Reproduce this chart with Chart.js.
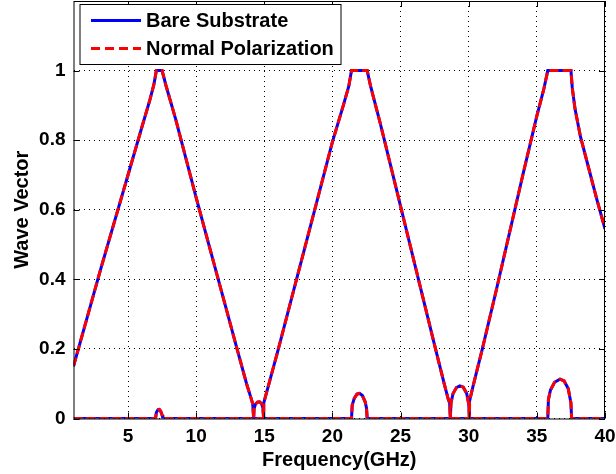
<!DOCTYPE html>
<html>
<head>
<meta charset="utf-8">
<script src="https://cdn.jsdelivr.net/npm/chart.js@4"></script>
<style>
html,body{margin:0;padding:0;background:#fff;}
#wrap{width:616px;height:474px;}
</style>
</head>
<body>
<div id="wrap"><canvas id="c" width="616" height="474"></canvas></div>
<script>
// ---- data ----
const seriesNames = ["Bare Substrate", "Normal Polarization"];
const xTicks = [5, 10, 15, 20, 25, 30, 35, 40];
const yTicks = [0, 0.2, 0.4, 0.6, 0.8, 1];

// propagating branch (real part)
const freqReal = [1, 2, 3, 4, 5, 6, 6.6, 6.9, 7.08, 7.5, 7.8, 8.5, 10, 11, 12, 13, 13.7, 14.0, 14.15, 14.22,
  14.95, 14.96, 15.1, 16, 17, 18, 19, 20, 20.8, 21.2, 21.4, 22.55, 22.8, 23.5, 24.5, 25.5, 26.5, 27.5, 28.2, 28.5, 28.6, 28.65,
  30.05, 30.06, 30.3, 31, 32, 33, 34, 35, 35.5, 35.8, 37.5, 37.6, 37.8, 38.2, 38.8, 39.4, 40];
const bareReal = [0.15, 0.29, 0.43, 0.565, 0.70, 0.835, 0.915, 0.96, 1.0, 1.0, 0.955, 0.86, 0.635, 0.49, 0.345, 0.2, 0.1, 0.062, 0.042, 0,
  0, 0.045, 0.065, 0.195, 0.345, 0.495, 0.645, 0.795, 0.9, 0.955, 1.0, 1.0, 0.955, 0.85, 0.69, 0.53, 0.37, 0.21, 0.1, 0.055, 0.045, 0,
  0, 0.05, 0.09, 0.2, 0.365, 0.535, 0.705, 0.87, 0.945, 1.0, 1.0, 0.95, 0.89, 0.81, 0.72, 0.63, 0.545];

// evanescent branch (imaginary part)
const freqImag = [1, 7.02, 7.08, 7.2, 7.3, 7.4, 7.5, 7.56,
  14.22, 14.25, 14.35, 14.5, 14.65, 14.8, 14.9, 14.95,
  21.4, 21.45, 21.6, 21.8, 22.0, 22.2, 22.4, 22.5, 22.55,
  28.65, 28.7, 28.85, 29.1, 29.35, 29.6, 29.85, 30.0, 30.05,
  35.8, 35.85, 36.0, 36.3, 36.7, 37.0, 37.3, 37.5, 37.55, 40];
const bareImag = [0, 0, 0.017, 0.025, 0.026, 0.021, 0.01, 0,
  0, 0.028, 0.041, 0.047, 0.048, 0.043, 0.03, 0,
  0, 0.038, 0.058, 0.07, 0.072, 0.066, 0.048, 0.03, 0,
  0, 0.045, 0.072, 0.089, 0.094, 0.09, 0.072, 0.042, 0,
  0, 0.055, 0.082, 0.104, 0.113, 0.108, 0.086, 0.045, 0, 0];

// normal polarization coincides with the bare substrate curve
const normalReal = bareReal.slice();
const normalImag = bareImag.slice();

const pts = (xs, ys) => xs.map((x, i) => ({x: x, y: ys[i]}));

const FONT = "'Liberation Sans', Arial, sans-serif";
const BLUE = '#0000ff', RED = '#ff0000';

const frameAndLegend = {
  id: 'frameAndLegend',
  afterDatasetsDraw(chart) {
    const {ctx, chartArea: a, scales} = chart;
    ctx.save();
    ctx.strokeStyle = '#000';
    ctx.lineWidth = 1;
    ctx.setLineDash([]);
    ctx.strokeRect(a.left + 0.5, a.top + 0.5, a.right - a.left - 1, a.bottom - a.top);
    const tl = 6;
    ctx.beginPath();
    scales.x.ticks.forEach(t => {
      const px = Math.round(scales.x.getPixelForValue(t.value)) + 0.5;
      ctx.moveTo(px, a.bottom); ctx.lineTo(px, a.bottom - tl);
      ctx.moveTo(px, a.top); ctx.lineTo(px, a.top + tl);
    });
    scales.y.ticks.forEach(t => {
      const py = Math.round(scales.y.getPixelForValue(t.value)) + 0.5;
      ctx.moveTo(a.left, py); ctx.lineTo(a.left + tl, py);
      ctx.moveTo(a.right, py); ctx.lineTo(a.right - tl, py);
    });
    ctx.stroke();
    // legend
    const bx = a.left + 6.5, by = a.top + 3.5, bw = 261, bh = 60;
    ctx.fillStyle = '#fff';
    ctx.fillRect(bx, by, bw, bh);
    ctx.strokeStyle = '#000';
    ctx.lineWidth = 1;
    ctx.strokeRect(bx, by, bw, bh);
    const rows = [
      {label: seriesNames[0], color: BLUE, dash: []},
      {label: seriesNames[1], color: RED, dash: [9, 5]}
    ];
    ctx.font = 'bold 20px ' + FONT;
    ctx.textBaseline = 'middle';
    rows.forEach((r, i) => {
      const cy = by + 16 + i * 28;
      ctx.beginPath();
      ctx.setLineDash(r.dash);
      ctx.strokeStyle = r.color;
      ctx.lineWidth = 3;
      ctx.moveTo(bx + 11, cy); ctx.lineTo(bx + 61, cy);
      ctx.stroke();
      ctx.setLineDash([]);
      ctx.fillStyle = '#000';
      ctx.fillText(r.label, bx + 66, cy + 1);
    });
    ctx.restore();
  }
};

const common = {showLine: true, pointRadius: 0, borderWidth: 3, tension: 0, fill: false, spanGaps: true};

new Chart(document.getElementById('c'), {
  type: 'scatter',
  data: {
    datasets: [
      Object.assign({label: seriesNames[0], data: pts(freqReal, bareReal), borderColor: BLUE, backgroundColor: BLUE, order: 2}, common),
      Object.assign({label: seriesNames[0] + ' (imag)', data: pts(freqImag, bareImag), borderColor: BLUE, backgroundColor: BLUE, order: 2}, common),
      Object.assign({label: seriesNames[1], data: pts(freqReal, normalReal), borderColor: RED, backgroundColor: RED, borderDash: [9, 4], order: 1}, common),
      Object.assign({label: seriesNames[1] + ' (imag)', data: pts(freqImag, normalImag), borderColor: RED, backgroundColor: RED, borderDash: [9, 4], order: 1}, common)
    ]
  },
  options: {
    responsive: false,
    animation: false,
    events: [],
    layout: {padding: {left: 0, right: 11, top: 1, bottom: 0}},
    plugins: {legend: {display: false}, tooltip: {enabled: false}},
    scales: {
      x: {
        type: 'linear', min: 1, max: 40,
        afterBuildTicks: s => { s.ticks = xTicks.map(v => ({value: v})); },
        afterFit: s => { s.height = 55.5; s.paddingLeft = 0; s.paddingRight = 0; },
        grid: {color: '#000', lineWidth: 1, drawTicks: false},
        border: {display: false, dash: [1, 4]},
        ticks: {color: '#000', font: {family: FONT, size: 19, weight: 'bold'}, padding: 7, maxRotation: 0},
        title: {display: true, text: 'Frequency(GHz)', color: '#000', font: {family: FONT, size: 20, weight: 'bold'}, padding: {top: 0, bottom: 2}}
      },
      y: {
        type: 'linear', min: 0, max: 1.2,
        afterBuildTicks: s => { s.ticks = yTicks.map(v => ({value: v})); },
        afterFit: s => { s.width = 73.5; s.paddingTop = 0; s.paddingBottom = 0; },
        grid: {color: '#000', lineWidth: 1, drawTicks: false},
        border: {display: false, dash: [1, 4]},
        ticks: {color: '#000', font: {family: FONT, size: 19, weight: 'bold'}, padding: 8,
          callback: v => String(v)},
        title: {display: true, text: 'Wave Vector', color: '#000', font: {family: FONT, size: 20, weight: 'bold'}, padding: {top: 10, bottom: 0}}
      }
    }
  },
  plugins: [frameAndLegend]
});
</script>
</body>
</html>
